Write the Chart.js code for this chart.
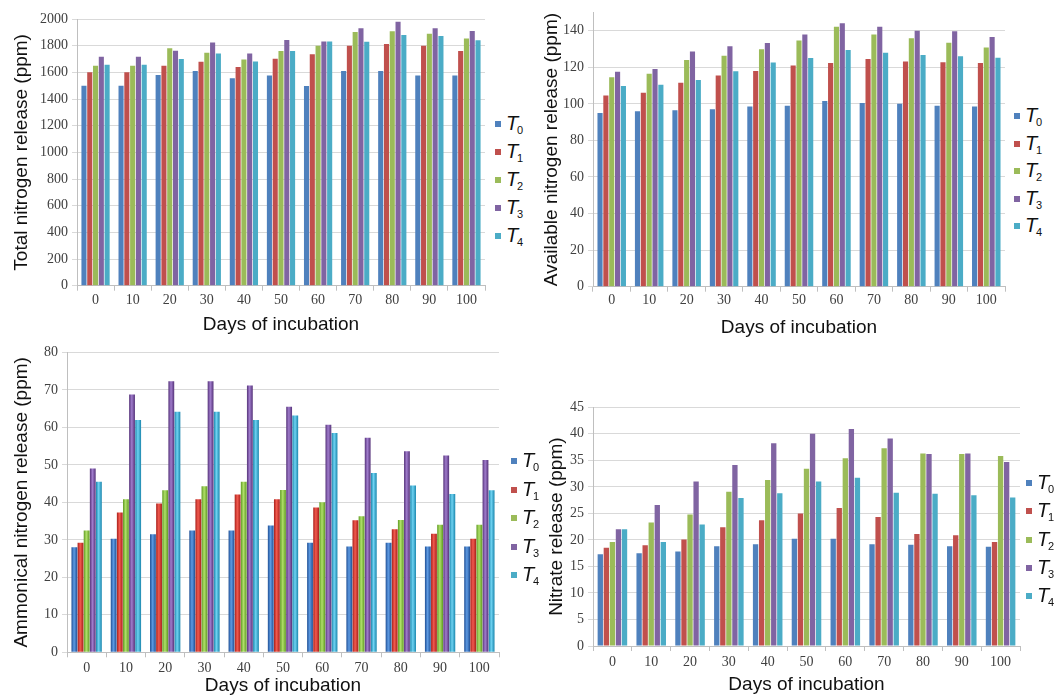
<!DOCTYPE html>
<html>
<head>
<meta charset="utf-8">
<script src="https://cdn.jsdelivr.net/npm/chart.js@4.4.1/dist/chart.umd.min.js"></script>
<style>
html,body{margin:0;padding:0;background:#fff;overflow:hidden}
body{width:1054px;height:695px;position:relative}
.box{position:absolute}
.legend{position:absolute;font-family:"Liberation Sans",Arial,sans-serif;color:#111}
.legend div{position:absolute;left:0;height:20px;white-space:nowrap}
.legend span.sq{position:absolute;left:0;top:7px;width:6px;height:6px}
.legend i{position:absolute;left:11px;top:-2px;font-size:20px;font-style:italic}
.legend sub{position:absolute;left:22px;top:10px;font-size:11px}
</style>
</head>
<body>
<div class="box" style="left:0;top:0;width:490px;height:340px"><canvas id="c1"></canvas></div>
<div class="box" style="left:530px;top:0;width:480px;height:345px"><canvas id="c2"></canvas></div>
<div class="box" style="left:0;top:340px;width:504px;height:355px"><canvas id="c3"></canvas></div>
<div class="box" style="left:530px;top:340px;width:495px;height:355px"><canvas id="c4"></canvas></div>
<div class="legend" id="l1" style="left:495px;top:114px"></div>
<div class="legend" id="l2" style="left:1014px;top:106px"></div>
<div class="legend" id="l3" style="left:511px;top:451px"></div>
<div class="legend" id="l4" style="left:1026px;top:473px"></div>
<script>
const days=["0","10","20","30","40","50","60","70","80","90","100"]
const names=["0","1","2","3","4"]

// total nitrogen
const totalT0=[1500,1500,1580,1610,1555,1577,1497,1610,1610,1577,1577]
const totalT1=[1600,1600,1650,1680,1640,1702,1735,1800,1812,1800,1760]
const totalT2=[1650,1650,1780,1747,1697,1760,1800,1903,1908,1890,1853]
const totalT3=[1717,1717,1762,1823,1742,1842,1832,1930,1980,1930,1910]
const totalT4=[1657,1657,1700,1742,1682,1760,1832,1830,1880,1872,1840]

// available nitrogen
const availT0=[95,96,96.5,97,98.5,99,101.5,100.5,100,99,98.5]
const availT1=[104.5,106,111.5,115.5,118,121,122.3,124.5,123.2,122.7,122.3]
const availT2=[114.5,116.5,124,126.3,129.8,134.6,142.2,137.9,135.9,133.4,130.8]
const availT3=[117.6,119.1,128.6,131.5,133.3,137.9,144,142.2,139.9,139.7,136.6]
const availT4=[109.7,110.4,113,117.8,122.6,125,129.5,128,126.7,126,125.2]

// ammonical nitrogen
const ammT0=[28,30.3,31.5,32.5,32.5,33.8,29.2,28.2,29.2,28.2,28.2]
const ammT1=[29.2,37.3,39.7,40.8,42.1,40.8,38.6,35.2,32.8,31.6,30.3]
const ammT2=[32.5,40.8,43.2,44.3,45.5,43.3,40,36.3,35.3,34,34]
const ammT3=[49,68.8,72.3,72.3,71.2,65.5,60.7,57.2,53.6,52.5,51.3]
const ammT4=[45.5,62,64.2,64.2,62,63.2,58.5,47.8,44.5,42.2,43.2]

// nitrate
const nitT0=[17.3,17.5,17.8,18.8,19.2,20.2,20.2,19.2,19.1,18.8,18.7]
const nitT1=[18.5,19,20.1,22.4,23.7,25,26,24.3,21.1,20.9,19.6]
const nitT2=[19.6,23.3,24.8,29.1,31.3,33.4,35.4,37.3,36.3,36.2,35.8]
const nitT3=[22,26.6,31,34.1,38.2,40,40.9,39.1,36.2,36.3,34.7]
const nitT4=[22,19.6,22.9,27.9,28.8,31,31.7,28.9,28.7,28.4,28]

const colors=["#4f81bd","#c0504d","#9bbb59","#8064a2","#4bacc6"]
const cylColors=[
["#1f4f95","#5e9be3"],
["#a81f1a","#f25a4f"],
["#5f9a22","#b0e06a"],
["#553279","#a07ccc"],
["#1a86ad","#6fd3f2"]
]

const tickFont={family:"'Liberation Serif','Times New Roman',serif",size:14}
const titleFont={family:"'Liberation Sans',Arial,sans-serif",size:19}

function cylinder(i){
return c=>{
const el=c.chart.getDatasetMeta(c.datasetIndex).data[c.dataIndex]
if(!el||!el.width||isNaN(el.x)) return cylColors[i][0]
const g=c.chart.ctx.createLinearGradient(el.x-el.width/2,0,el.x+el.width/2,0)
g.addColorStop(0,cylColors[i][0])
g.addColorStop(0.45,cylColors[i][1])
g.addColorStop(1,cylColors[i][0])
return g
}
}

function makeChart(id,series,o){
const datasets=series.map((d,i)=>({
label:"T"+names[i],
data:d,
backgroundColor:o.cyl?cylinder(i):colors[i],
borderWidth:0,
categoryPercentage:0.78,
barPercentage:o.bar
}))
return new Chart(document.getElementById(id),{
type:"bar",
data:{labels:days,datasets:datasets},
options:{
responsive:true,
maintainAspectRatio:false,
animation:false,
layout:{padding:{top:o.top,left:0,right:5,bottom:0}},
plugins:{legend:{display:false},tooltip:{enabled:false}},
scales:{
x:{
grid:{display:true,drawOnChartArea:false,tickLength:5,color:"#bfbfbf"},
border:{color:"#bfbfbf"},
ticks:{font:tickFont,color:"#404040",padding:o.xpad,maxRotation:0},
title:{display:true,text:"Days of incubation",font:{...titleFont,lineHeight:1},color:"#111",padding:{top:0,bottom:o.xtb}},
afterFit:s=>{s.height=o.xh}
},
y:{
min:0,max:o.max,
grid:{color:"#d9d9d9",tickLength:5},
border:{color:"#bfbfbf"},
ticks:{stepSize:o.step,font:tickFont,color:"#404040",padding:4,includeBounds:false,callback:v=>String(v)},
title:{display:true,text:o.ytitle,font:titleFont,color:"#111",padding:{top:o.ytp,bottom:0}},
afterFit:s=>{s.width=o.yw}
}
}
}
})
}

function legend(id,gap){
const el=document.getElementById(id)
names.forEach((n,i)=>{
const d=document.createElement("div")
d.style.top=(i*gap)+"px"
d.innerHTML='<span class="sq" style="background:'+colors[i]+'"></span><i>T</i><sub>'+n+'</sub>'
el.appendChild(d)
})
}

makeChart("c1",[totalT0,totalT1,totalT2,totalT3,totalT4],
{top:19,max:2000,step:200,ytitle:"Total nitrogen release (ppm)",yw:77,ytp:10.6,xh:54.3,xtb:5.5,xpad:1,bar:0.88})
makeChart("c2",[availT0,availT1,availT2,availT3,availT4],
{top:10,max:150,step:20,ytitle:"Available nitrogen release (ppm)",yw:63,ytp:10.6,xh:58.3,xtb:7.5,xpad:0.5,bar:0.88})
const ch3=makeChart("c3",[ammT0,ammT1,ammT2,ammT3,ammT4],
{top:9.3,max:80,step:10,ytitle:"Ammonical nitrogen release (ppm)",yw:67,ytp:10.6,xh:42.7,xtb:0,xpad:2.5,bar:0.95,cyl:true})
ch3.update("none")
makeChart("c4",[nitT0,nitT1,nitT2,nitT3,nitT4],
{top:67.3,max:45,step:5,ytitle:"Nitrate release (ppm)",yw:63,ytp:15.6,xh:49,xtb:0.5,xpad:2.5,bar:0.88})

legend("l1",28)
legend("l2",27.5)
legend("l3",28.6)
legend("l4",28.3)
</script>
</body>
</html>
